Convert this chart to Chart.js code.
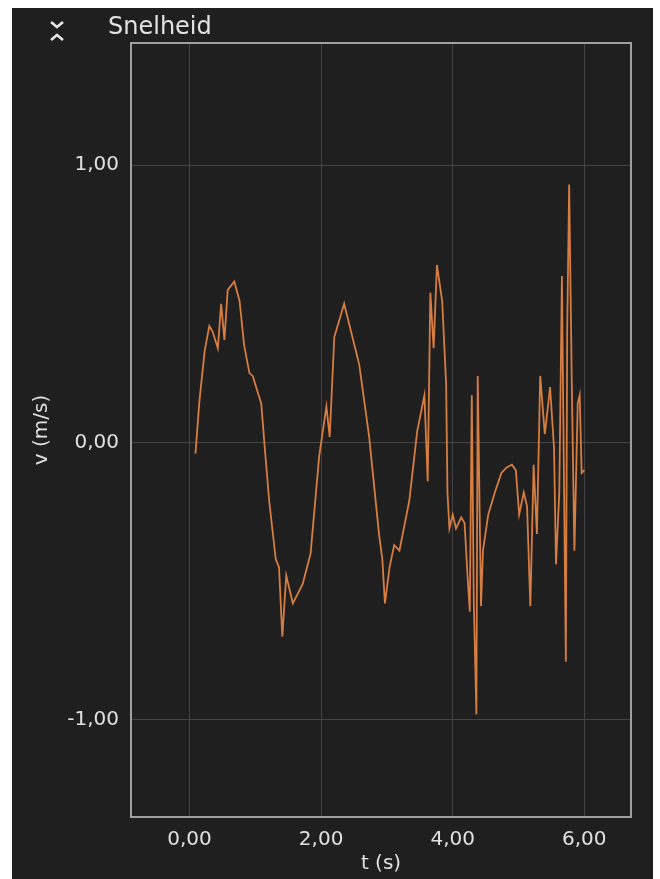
<!DOCTYPE html>
<html>
<head>
<meta charset="utf-8">
<script src="https://cdn.jsdelivr.net/npm/chart.js@4.4.1/dist/chart.umd.min.js"></script>
<style>
  html, body { margin: 0; background: #fff; }
  #panel { position: absolute; left: 12px; top: 8px; width: 641px; height: 871px; background: #1f1f1f; }
  #title { position: absolute; left: 96px; top: 4px; font: 24px "DejaVu Sans"; color: #e2e2e2; }
  #icon { position: absolute; left: 35px; top: 10px; }
  #wrap { position: absolute; left: 0; top: 0; width: 641px; height: 871px; }
</style>
</head>
<body>
<div id="panel">
  <div id="wrap"><canvas id="chart"></canvas></div>
  <svg id="icon" width="20" height="26" viewBox="0 0 20 26">
    <polyline points="4,4 10,9 16,4" fill="none" stroke="#e6e6e6" stroke-width="2.6"/>
    <polyline points="4,22 10,17 16,22" fill="none" stroke="#e6e6e6" stroke-width="2.6"/>
  </svg>
  <div id="title">Snelheid</div>
</div>
<script>
// time (s) and speed (m/s)
const times = [0.09, 0.15, 0.23, 0.30, 0.35, 0.43, 0.48, 0.53, 0.58, 0.68, 0.76, 0.83, 0.91, 0.96,
  1.09, 1.14, 1.21, 1.31, 1.36, 1.41, 1.47, 1.57, 1.72, 1.84, 1.97, 2.08, 2.13, 2.20, 2.35, 2.58,
  2.73, 2.88, 2.93, 2.97, 3.04, 3.11, 3.19, 3.34, 3.46, 3.57, 3.62, 3.66, 3.71, 3.76, 3.84, 3.90,
  3.92, 3.95, 4.00, 4.05, 4.13, 4.18, 4.23, 4.26, 4.29, 4.32, 4.36, 4.38, 4.43, 4.46, 4.54, 4.64,
  4.74, 4.82, 4.90, 4.96, 5.01, 5.08, 5.13, 5.18, 5.23, 5.28, 5.33, 5.40, 5.48, 5.54, 5.57, 5.62,
  5.66, 5.69, 5.72, 5.74, 5.77, 5.81, 5.85, 5.90, 5.93, 5.96, 6.00];
const speeds = [-0.04, 0.15, 0.33, 0.42, 0.40, 0.34, 0.50, 0.37, 0.55, 0.58, 0.51, 0.35, 0.25, 0.24,
  0.14, -0.01, -0.21, -0.42, -0.45, -0.70, -0.48, -0.58, -0.51, -0.40, -0.05, 0.13, 0.02, 0.38, 0.50, 0.28,
  0.02, -0.33, -0.42, -0.58, -0.45, -0.37, -0.39, -0.21, 0.04, 0.17, -0.14, 0.54, 0.34, 0.64, 0.51, 0.21,
  -0.18, -0.31, -0.26, -0.31, -0.27, -0.29, -0.50, -0.61, 0.17, -0.57, -0.98, 0.24, -0.59, -0.39, -0.26, -0.18,
  -0.11, -0.09, -0.08, -0.10, -0.26, -0.18, -0.23, -0.59, -0.08, -0.33, 0.24, 0.03, 0.20, -0.02, -0.44, -0.18,
  0.60, -0.11, -0.79, 0.40, 0.93, 0.21, -0.39, 0.14, 0.17, -0.11, -0.10];

const xRange = [-0.89, 6.71];
const yRange = [-1.35, 1.44];
const xStep = 2;
const yStep = 1;

const textColor = '#e0e0e0';
const gridColor = '#444444';
const tickFont = { family: 'DejaVu Sans', size: 20 };
const fmt = v => v.toFixed(2).replace('.', ',');

// frame round the plot area
const frame = {
  id: 'frame',
  afterDatasetsDraw(chart) {
    const { ctx, chartArea: a } = chart;
    ctx.save();
    ctx.strokeStyle = '#a0a0a0';
    ctx.lineWidth = 2;
    ctx.strokeRect(a.left, a.top, a.right - a.left, a.bottom - a.top);
    ctx.restore();
  }
};

new Chart(document.getElementById('chart'), {
  type: 'scatter',
  data: {
    datasets: [{
      data: times.map((t, i) => ({ x: t, y: speeds[i] })),
      showLine: true,
      borderColor: '#d67d42',
      borderWidth: 1.8,
      pointRadius: 0,
      tension: 0
    }]
  },
  options: {
    responsive: true,
    maintainAspectRatio: false,
    animation: false,
    layout: { padding: { top: 35, right: 22, left: 0, bottom: 0 } },
    plugins: { legend: { display: false }, tooltip: { enabled: false } },
    scales: {
      x: {
        min: xRange[0], max: xRange[1],
        border: { display: false },
        grid: { color: gridColor, lineWidth: 1, drawTicks: false },
        ticks: { stepSize: xStep, includeBounds: false, color: textColor, font: tickFont, padding: 11, callback: fmt },
        title: { display: true, text: 't (s)', color: textColor, font: tickFont, padding: { top: 0, bottom: 3 } },
        afterFit(s) { s.height = 62; }
      },
      y: {
        min: yRange[0], max: yRange[1],
        border: { display: false },
        grid: { color: gridColor, lineWidth: 1, drawTicks: false },
        ticks: { stepSize: yStep, includeBounds: false, color: textColor, font: tickFont, padding: 12, callback: fmt },
        title: { display: true, text: 'v (m/s)', color: textColor, font: tickFont, padding: { top: 18, bottom: 0 } },
        afterFit(s) { s.width = 119; }
      }
    }
  },
  plugins: [frame]
});
</script>
</body>
</html>
